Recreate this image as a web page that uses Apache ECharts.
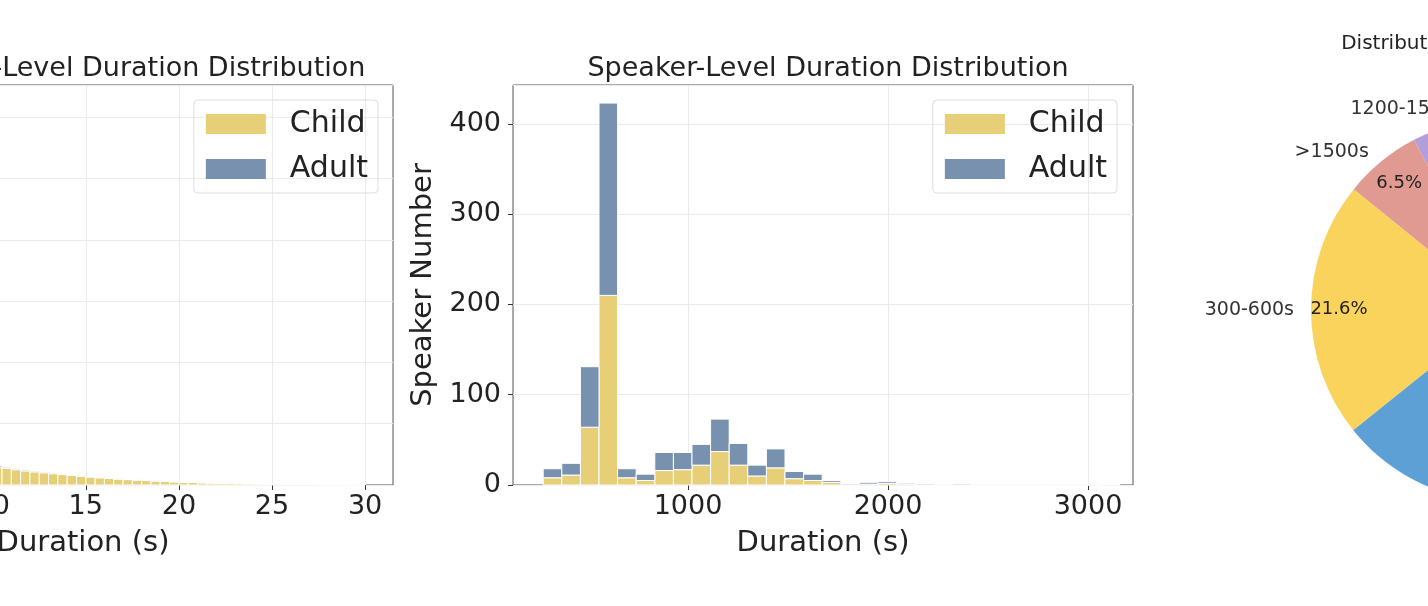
<!DOCTYPE html>
<html><head><meta charset="utf-8">
<script src="https://cdn.jsdelivr.net/npm/echarts@6/dist/echarts.min.js"></script>
<style>html,body{margin:0;padding:0;overflow:hidden;width:1428px;height:606px;background:#fff}
#c{position:absolute;left:-300px;top:0;width:2100px;height:606px}</style></head>
<body><div id="c"></div>
<script>
// Utterance-level histogram (bin start, width 0.5 s)
const uttBinStart = 0, uttBinWidth = 0.5;
const uttChild = [9000,30000,52000,58000,55000,48000,41000,35000,30000,25500,21500,18500,16000,13800,12000,10400,9000,7800,6800,5900,
  2900,2700,2500,2300,2150,2000,1850,1700,1550,1420,1300,1180,1070,970,880,800,720,650,580,520,
  460,410,360,320,280,250,220,190,170,150,130,110,95,80,70,60,50,40,35,30];
const uttAdult = [1500,4000,5000,4500,3800,3200,2700,2300,1900,1600,1300,1100,900,750,620,520,440,370,310,260,
  220,190,170,150,130,115,100,90,80,70,60,52,45,40,35,30,26,22,19,16,
  14,12,10,9,8,7,6,5,5,4,4,3,3,2,2,2,1,1,1,1];
const uttTicks = [0,5,10,15,20,25,30];

// Speaker-level histogram
const spkBinStart = 276, spkBinWidth = 93;
const spkChild = [8,11,64,210,8,5,16,17,22,37,22,10,19,7,5,3,0,1,2,1,0,0,0,0,0,0,0,0,0,0,1];
const spkAdult = [10,13,67,213,10,7,20,19,23,36,24,12,21,8,7,2,1,2,2,1,1,0,1,0,0,0,0,0,0,0,0];
const spkTicks = [1000,2000,3000];

// Pie
const pieNames = ['300-600s','600-900s','900-1200s','1200-1500s','>1500s'];
const pieValues = [21.6,45.6,16.3,10.0,6.5];
const pieColors = ['#F9D35B','#5DA0D6','#8CC79A','#B39DDB','#E09A91'];

const CHILD='#E6CF76', ADULT='#7791AE';
function stacked(start,w,child,adult){
  const c=[],a=[];
  child.forEach((v,i)=>{const x0=start+i*w,x1=x0+w;c.push([x0,x1,0,v]);a.push([x0,x1,v,v+adult[i]]);});
  return {c,a};
}
const U=stacked(uttBinStart,uttBinWidth,uttChild,uttAdult);
const S=stacked(spkBinStart,spkBinWidth,spkChild,spkAdult);
function rect(params,api){
  const p0=api.coord([api.value(0),api.value(3)]);
  const p1=api.coord([api.value(1),api.value(2)]);
  return {type:'rect',shape:{x:p0[0],y:p0[1],width:p1[0]-p0[0],height:p1[1]-p0[1]},
    style:{fill:api.visual('color'),stroke:'#fff',lineWidth:1}};
}
const F='DejaVu Sans';
const gridLine={show:true,lineStyle:{color:'#EBEBEB',width:1}};
function xAx(gi,min,max,ticks){return {type:'value',gridIndex:gi,min,max,name:'Duration (s)',nameLocation:'middle',nameGap:44,
  nameTextStyle:{fontFamily:F,fontSize:29,color:'#222'},
  axisLine:{show:false},axisTick:{show:true,length:5,customValues:ticks,lineStyle:{color:'#333'}},
  axisLabel:{customValues:ticks,formatter:v=>String(v),fontFamily:F,fontSize:27,color:'#222',margin:8},splitLine:gridLine};}
function yAx(gi,max,interval,name){return {type:'value',gridIndex:gi,min:0,max,interval,name,nameLocation:'middle',nameGap:75,
  nameTextStyle:{fontFamily:F,fontSize:29,color:'#222'},
  axisLine:{show:false},axisTick:{show:true,length:5,lineStyle:{color:'#333'}},
  axisLabel:{formatter:v=>String(v),fontFamily:F,fontSize:27,color:'#222',margin:12,showMaxLabel:false},splitLine:gridLine};}
function legend(right){return {top:100,right,orient:'vertical',icon:'rect',itemWidth:60,itemHeight:20,itemGap:15,
  padding:[9,10,9,12],borderColor:'#ddd',borderWidth:1,borderRadius:4,
  textStyle:{fontFamily:F,fontSize:30,lineHeight:30,color:'#222',padding:[0,0,0,19]},
  data:[{name:'Child',itemStyle:{color:CHILD}},{name:'Adult',itemStyle:{color:ADULT}}]};}
const chart=echarts.init(document.getElementById('c'));
chart.setOption({
  animation:false,
  title:[
    {text:'Utterance-Level Duration Distribution',left:407,top:50,textAlign:'center',textStyle:{fontFamily:F,fontSize:27,fontWeight:'normal',color:'#222'}},
    {text:'Speaker-Level Duration Distribution',left:1123,top:50,textAlign:'center',textStyle:{fontFamily:F,fontSize:27,fontWeight:'normal',color:'#222'}},
    {text:'Distribution of Speaker Durations',left:1803,top:29,textAlign:'center',textStyle:{fontFamily:F,fontSize:20,fontWeight:'normal',color:'#222'}}
  ],
  legend:[legend(1422),legend(683)],
  grid:[
    {left:73,width:620,top:85,height:400,show:true,borderColor:'#555',borderWidth:1,outerBoundsMode:'none',containLabel:false},
    {left:813,width:620,top:85,height:400,show:true,borderColor:'#555',borderWidth:1,outerBoundsMode:'none',containLabel:false}
  ],
  xAxis:[xAx(0,-1.8,31.5,uttTicks),xAx(1,125,3225,spkTicks)],
  yAxis:[yAx(0,65300,10000,'Utterance Number'),yAx(1,443,100,'Speaker Number')],
  series:[
    {type:'custom',name:'Child',xAxisIndex:0,yAxisIndex:0,renderItem:rect,data:U.c,itemStyle:{color:CHILD}},
    {type:'custom',name:'Adult',xAxisIndex:0,yAxisIndex:0,renderItem:rect,data:U.a,itemStyle:{color:ADULT}},
    {type:'custom',name:'Child',xAxisIndex:1,yAxisIndex:1,renderItem:rect,data:S.c,itemStyle:{color:CHILD}},
    {type:'custom',name:'Adult',xAxisIndex:1,yAxisIndex:1,renderItem:rect,data:S.a,itemStyle:{color:ADULT}},
    {type:'pie',center:[1803,310],radius:192,startAngle:141,clockwise:false,silent:true,
      data:pieNames.map((n,i)=>({name:n,value:pieValues[i],itemStyle:{color:pieColors[i]}})),
      label:{position:'outside',formatter:'{b}',fontFamily:F,fontSize:19,color:'#333'},
      labelLine:{show:false,length:12,length2:0}},
    {type:'pie',center:[1803,310],radius:[130,192],startAngle:141,clockwise:false,silent:true,
      data:pieNames.map((n,i)=>({name:n,value:pieValues[i],itemStyle:{color:'rgba(0,0,0,0)'}})),
      label:{position:'inside',formatter:p=>p.value.toFixed(1)+'%',fontFamily:F,fontSize:18,color:'#222'},
      labelLine:{show:false}}
  ]
});
</script></body></html>
